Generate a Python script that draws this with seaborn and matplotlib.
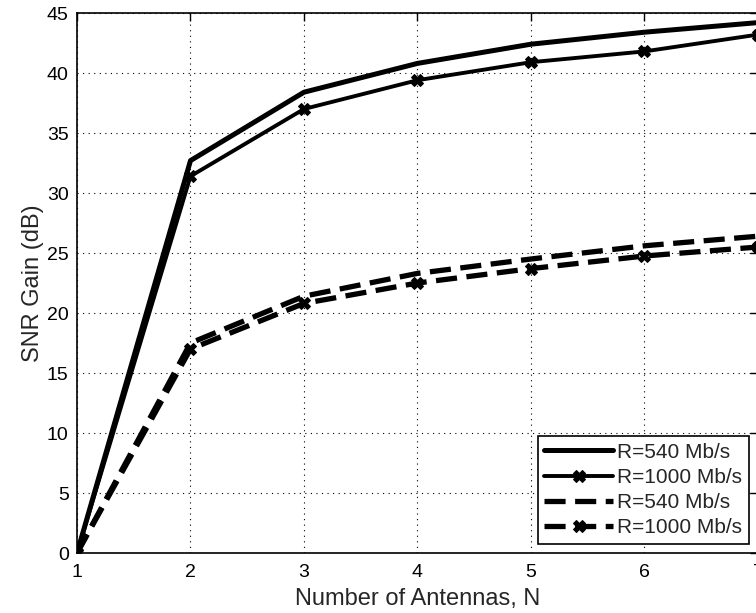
import pandas as pd
import matplotlib
matplotlib.use("Agg")
import matplotlib.pyplot as plt
import seaborn as sns

# --- data ---
antennas = [1, 2, 3, 4, 5, 6, 7]
gain_540_solid = [0.0, 32.7, 38.4, 40.8, 42.4, 43.4, 44.2]
gain_1000_solid = [0.0, 31.4, 37.0, 39.4, 40.9, 41.8, 43.2]
gain_540_dash = [0.0, 17.5, 21.4, 23.3, 24.5, 25.6, 26.4]
gain_1000_dash = [0.0, 17.0, 20.8, 22.5, 23.7, 24.75, 25.5]
labels = ["R=540 Mb/s", "R=1000 Mb/s", "R=540 Mb/s", "R=1000 Mb/s"]

sns.set_style("white")
plt.rcParams['font.family'] = ['Liberation Sans', 'DejaVu Sans']
plt.rcParams.update({
    'xtick.direction': 'in',
    'ytick.direction': 'in',
    'xtick.top': True,
    'ytick.right': True,
})

fig = plt.figure(figsize=(7.56, 6.13), dpi=100)
ax = fig.add_axes([77 / 756, 60 / 613, 681 / 756, 540 / 613])

series = [
    (gain_540_solid, '-', None, 3.6),
    (gain_1000_solid, '-', 'X', 2.8),
    (gain_540_dash, (0, (4, 1.8)), None, 3.8),
    (gain_1000_dash, (0, (4, 1.8)), 'X', 3.8),
]
for (vals, ls, mk, lw), lab in zip(series, labels):
    df = pd.DataFrame({"N": antennas, "gain": vals})
    sns.lineplot(data=df, x="N", y="gain", ax=ax, color="black",
                 linestyle=ls, marker=mk, markersize=9, linewidth=lw,
                 markeredgecolor="black", label=lab, dash_capstyle="butt")

ax.set_xlim(1, 7)
ax.set_ylim(0, 45)
ax.set_xticks(antennas)
ax.set_yticks(range(0, 50, 5))
ax.grid(True, color="black", linestyle=(0, (1, 4)), linewidth=0.8)
for s in ax.spines.values():
    s.set_color("black")
    s.set_linewidth(1.2)
ax.tick_params(labelsize=14, length=6, width=1, colors="black")
ax.tick_params(axis="x", pad=8)
ax.tick_params(axis="y", pad=6)
ax.set_xlabel("Number of Antennas, N", fontsize=17, labelpad=5)
ax.set_ylabel("SNR Gain (dB)", fontsize=17, labelpad=2)

leg = ax.legend(loc="lower right", fontsize=15, handlelength=3.3,
                fancybox=False, framealpha=1, edgecolor="black",
                borderaxespad=0.45, labelspacing=0.3, handletextpad=0.2,
                borderpad=0.3)
leg.get_frame().set_linewidth(1.2)

fig.savefig("out.png", dpi=100)
